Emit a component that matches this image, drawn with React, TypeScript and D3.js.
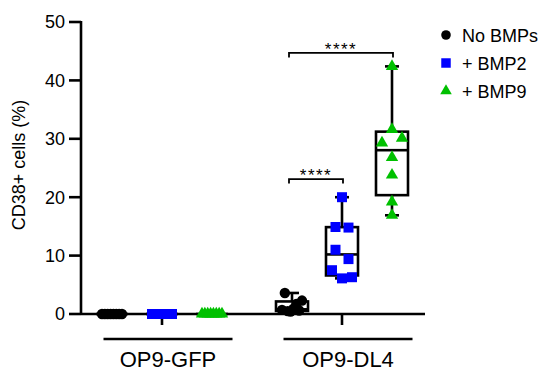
import React from 'react';
import * as d3 from 'd3';

const groups = ['OP9-GFP', 'OP9-DL4'];
const seriesNames = ['No BMPs', '+ BMP2', '+ BMP9'];
const seriesColors = ['#000000', '#0000ff', '#00c000'];
const seriesSymbols = [d3.symbolCircle, d3.symbolSquare, d3.symbolTriangle];

const gfpNoBmp = [0, 0, 0, 0, 0, 0, 0, 0];
const gfpBmp2 = [0, 0, 0, 0, 0, 0, 0, 0];
const gfpBmp9 = [0, 0, 0, 0, 0, 0, 0, 0];
const dl4NoBmp = [0.7, 3.6, 0.5, 0.4, 0.9, 1.7, 0.6, 2.3];
const dl4Bmp2 = [20, 14.9, 14.8, 11, 9.4, 7.5, 6.1, 6.3];
const dl4Bmp9 = [42.4, 29.3, 31.6, 30.1, 26.8, 23.8, 19.2, 16.9];

const dataByGroup = [
  [gfpNoBmp, gfpBmp2, gfpBmp9],
  [dl4NoBmp, dl4Bmp2, dl4Bmp9],
];

const yTicks = [0, 10, 20, 30, 40, 50];
const yLabel = 'CD38+ cells (%)';

const comparisons = [
  { group: 1, from: 0, to: 1, y: 23.1, label: '****' },
  { group: 1, from: 0, to: 2, y: 44.7, label: '****' },
];

const FONT = 'Liberation Sans, Arial, Helvetica, sans-serif';

function prismQuantile(sorted: number[], p: number) {
  const n = sorted.length;
  const pos = (n + 1) * p;
  if (pos <= 1) return sorted[0];
  if (pos >= n) return sorted[n - 1];
  const lo = Math.floor(pos);
  const frac = pos - lo;
  return sorted[lo - 1] + frac * (sorted[lo] - sorted[lo - 1]);
}

function swarmOffsets(values: number[], ys: (v: number) => number) {
  const rowGap = 10, maxRange = 20, maxStep = 13;
  const idx = values.map((_, i) => i).sort((a, b) => values[b] - values[a]);
  const rows: number[][] = [];
  let prevY: number | null = null;
  for (const i of idx) {
    const py = ys(values[i]);
    if (prevY !== null && Math.abs(py - prevY) < rowGap) rows[rows.length - 1].push(i);
    else rows.push([i]);
    prevY = py;
  }
  const off = new Array(values.length).fill(0);
  rows.forEach((r) => {
    r.sort((a, b) => a - b);
    const n = r.length;
    const step = n > 1 ? Math.min(maxStep, maxRange / (n - 1)) : 0;
    r.forEach((i, k) => (off[i] = (k - (n - 1) / 2) * step));
  });
  return off;
}

export default function App() {
  const y = d3.scaleLinear().domain([0, 50]).range([314, 22]);
  const gx = d3.scalePoint<string>().domain(groups).range([162, 342]);
  const sx = d3.scalePoint<string>().domain(seriesNames).range([-50, 50]);
  const axisX = 81;
  const xEnd = 425;
  const boxHalf = 16;
  const capHalf = 7;
  const sw = 2.6;

  const sym = (i: number) =>
    d3.symbol().type(seriesSymbols[i]).size(i === 0 ? 85 : i === 1 ? 100 : 66)() as string;

  const legendRows = [35, 63, 91];

  return (
    <svg width={546} height={370} style={{ position: 'absolute', left: 0, top: 0, background: '#fff' }}
      fontFamily={FONT}>
      {/* Y axis */}
      <line x1={axisX} x2={axisX} y1={y(50) - 1} y2={y(0)} stroke="#000" strokeWidth={sw} />
      {yTicks.map((t) => (
        <g key={t}>
          <line x1={69} x2={axisX} y1={y(t)} y2={y(t)} stroke="#000" strokeWidth={sw} />
          <text x={65} y={y(t)} dy="0.36em" textAnchor="end" fontSize={18} fill="#000">{t}</text>
        </g>
      ))}
      <text transform={`translate(25,165) rotate(-90)`} textAnchor="middle" fontSize={18} fill="#000">{yLabel}</text>

      {/* X axis */}
      <line x1={axisX} x2={xEnd} y1={y(0)} y2={y(0)} stroke="#000" strokeWidth={sw} />
      {groups.map((g) => (
        <g key={g}>
          <line x1={gx(g)!} x2={gx(g)!} y1={y(0)} y2={y(0) + 11} stroke="#000" strokeWidth={sw} />
          <line x1={gx(g)! + 6 - 64.5} x2={gx(g)! + 6 + 64.5} y1={339} y2={339} stroke="#000" strokeWidth={sw} />
          <text x={gx(g)! + 6} y={366.5} textAnchor="middle" fontSize={22} fill="#000">{g}</text>
        </g>
      ))}

      {/* Boxes */}
      {groups.map((g, gi) =>
        seriesNames.map((s, si) => {
          const vals = dataByGroup[gi][si];
          const sorted = [...vals].sort((a, b) => a - b);
          const q1 = prismQuantile(sorted, 0.25);
          const med = prismQuantile(sorted, 0.5);
          const q3 = prismQuantile(sorted, 0.75);
          const mn = sorted[0];
          const mx = sorted[sorted.length - 1];
          const cx = gx(g)! + sx(s)!;
          return (
            <g key={g + s} stroke="#000" strokeWidth={sw} fill="none">
              <line x1={cx} x2={cx} y1={y(mx)} y2={y(q3)} />
              <line x1={cx} x2={cx} y1={y(q1)} y2={y(mn)} />
              <line x1={cx - capHalf} x2={cx + capHalf} y1={y(mx)} y2={y(mx)} />
              <line x1={cx - capHalf} x2={cx + capHalf} y1={y(mn)} y2={y(mn)} />
              <rect x={cx - boxHalf} y={y(q3)} width={boxHalf * 2} height={Math.max(0, y(q1) - y(q3))} />
              <line x1={cx - boxHalf} x2={cx + boxHalf} y1={y(med)} y2={y(med)} />
            </g>
          );
        })
      )}

      {/* Points */}
      {groups.map((g, gi) =>
        seriesNames.map((s, si) => {
          const vals = dataByGroup[gi][si];
          const offs = swarmOffsets(vals, y);
          const cx = gx(g)! + sx(s)!;
          return (
            <g key={'p' + g + s} fill={seriesColors[si]}>
              {vals.map((v, i) => (
                <path key={i} d={sym(si)} transform={`translate(${cx + offs[i]},${y(v)})`} />
              ))}
            </g>
          );
        })
      )}

      {/* Significance brackets */}
      {comparisons.map((c, i) => {
        const g = groups[c.group];
        const x1 = gx(g)! + sx(seriesNames[c.from])! - 3;
        const x2 = gx(g)! + sx(seriesNames[c.to])! + 1;
        const by = y(c.y);
        return (
          <g key={i}>
            <path d={`M${x1},${by + 4.5}V${by}H${x2}V${by + 4.5}`} fill="none" stroke="#000" strokeWidth={1.8} />
            <text x={(x1 + x2) / 2} y={by + 2} textAnchor="middle" fontSize={17} letterSpacing={1.5} fill="#000">{c.label}</text>
          </g>
        );
      })}

      {/* Legend */}
      {seriesNames.map((s, si) => (
        <g key={'l' + s}>
          <path d={d3.symbol().type(seriesSymbols[si]).size(si === 0 ? 72 : si === 1 ? 90 : 58)() as string}
            transform={`translate(446,${legendRows[si]})`} fill={seriesColors[si]} />
          <text x={462} y={legendRows[si] + 7} fontSize={18} fill="#000">{s}</text>
        </g>
      ))}
    </svg>
  );
}
